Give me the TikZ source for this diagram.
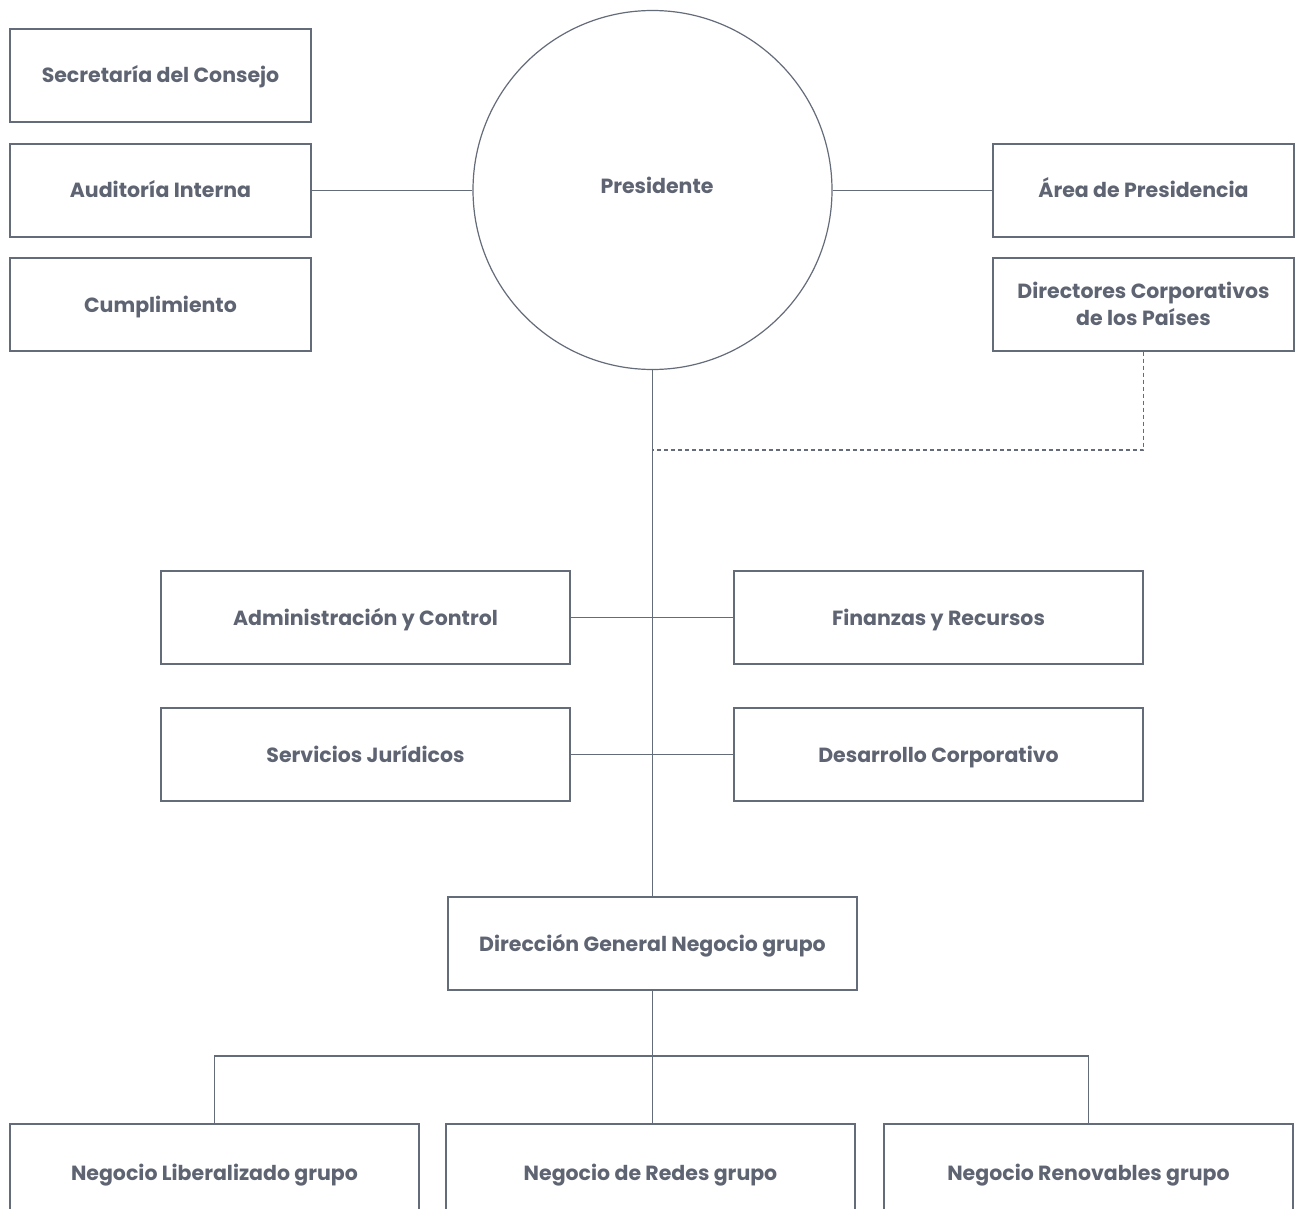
\documentclass[tikz,border=0pt]{standalone}
\usepackage{fontspec}
\setmainfont{Poppins}
\usetikzlibrary{calc}
\definecolor{txt}{HTML}{5E6472}
\definecolor{ln}{HTML}{646B79}
\begin{document}
\begin{tikzpicture}[x=1pt,y=-1pt,
  lbl/.style={text=txt,align=center,font=\fontsize{20.5}{27}\selectfont\bfseries,text height=19pt,text depth=4pt},
  box/.style={lbl,draw=ln,line width=1.2pt,fill=white,inner sep=0pt},
  conn/.style={draw=ln,line width=1.2pt},
  dconn/.style={draw=ln,line width=1.2pt,dash pattern=on 4pt off 3pt}]
\useasboundingbox (0,0) rectangle (1298,1209);
\fill[white] (0,0) rectangle (1298,1209);
\begin{scope}
\clip (0,0) rectangle (1298,1209);
% nodes
\node[box,minimum width=301pt,minimum height=93pt] (sec) at (160.5,75.5) {Secretaría del Consejo};
\node[box,minimum width=301pt,minimum height=93pt] (aud) at (160.5,190.5) {Auditoría Interna};
\node[box,minimum width=301pt,minimum height=93pt] (cum) at (160.5,304.5) {Cumplimiento};
\node[box,circle,minimum size=359pt] (pres) at (652.5,190) {};
\node[lbl] (prest) at (657,186) {Presidente};
\node[box,minimum width=301pt,minimum height=93pt] (area) at (1143.5,190.5) {Área de Presidencia};
\node[box,minimum width=301pt,minimum height=93pt] (dir) at (1143.5,304.5) {};
\node[lbl,text height=,text depth=] (dirt) at (1143.5,303.5) {Directores Corporativos\\de los Países};
\node[box,minimum width=409pt,minimum height=93pt] (adm) at (365.5,617.5) {Administración y Control};
\node[box,minimum width=409pt,minimum height=93pt] (fin) at (938.5,617.5) {Finanzas y Recursos};
\node[box,minimum width=409pt,minimum height=93pt] (ser) at (365.5,754.5) {Servicios Jurídicos};
\node[box,minimum width=409pt,minimum height=93pt] (des) at (938.5,754.5) {Desarrollo Corporativo};
\node[box,minimum width=409pt,minimum height=93pt] (dg) at (652.5,943.5) {Dirección General Negocio grupo};
\node[box,minimum width=409pt,minimum height=100pt] (lib) at (214.5,1174) {};
\node[box,minimum width=409pt,minimum height=100pt] (red) at (650.5,1174) {};
\node[box,minimum width=409pt,minimum height=100pt] (ren) at (1088.5,1174) {};
\node[lbl] (libt) at (214.5,1172.5) {Negocio Liberalizado grupo};
\node[lbl] (redt) at (650.5,1172.5) {Negocio de Redes grupo};
\node[lbl] (rent) at (1088.5,1172.5) {Negocio Renovables grupo};
\coordinate (j1) at (652.5,450);
\coordinate (j2) at (652.5,1056);
% connectors
\draw[conn] (aud.east) -- (aud.east -| pres.west);
\draw[conn] (area.west -| pres.east) -- (area.west);
\draw[conn] (pres.south) -- (dg.north);
\draw[dconn] (dir.south) |- (j1);
\draw[conn] (adm.east) -- (fin.west);
\draw[conn] (ser.east) -- (des.west);
\draw[conn] (dg.south) -- (j2);
\draw[conn] (j2) -| (lib.north);
\draw[conn] (j2) -| (ren.north);
\draw[conn] (j2) -- (j2 |- red.north);
\end{scope}
\end{tikzpicture}
\end{document}
